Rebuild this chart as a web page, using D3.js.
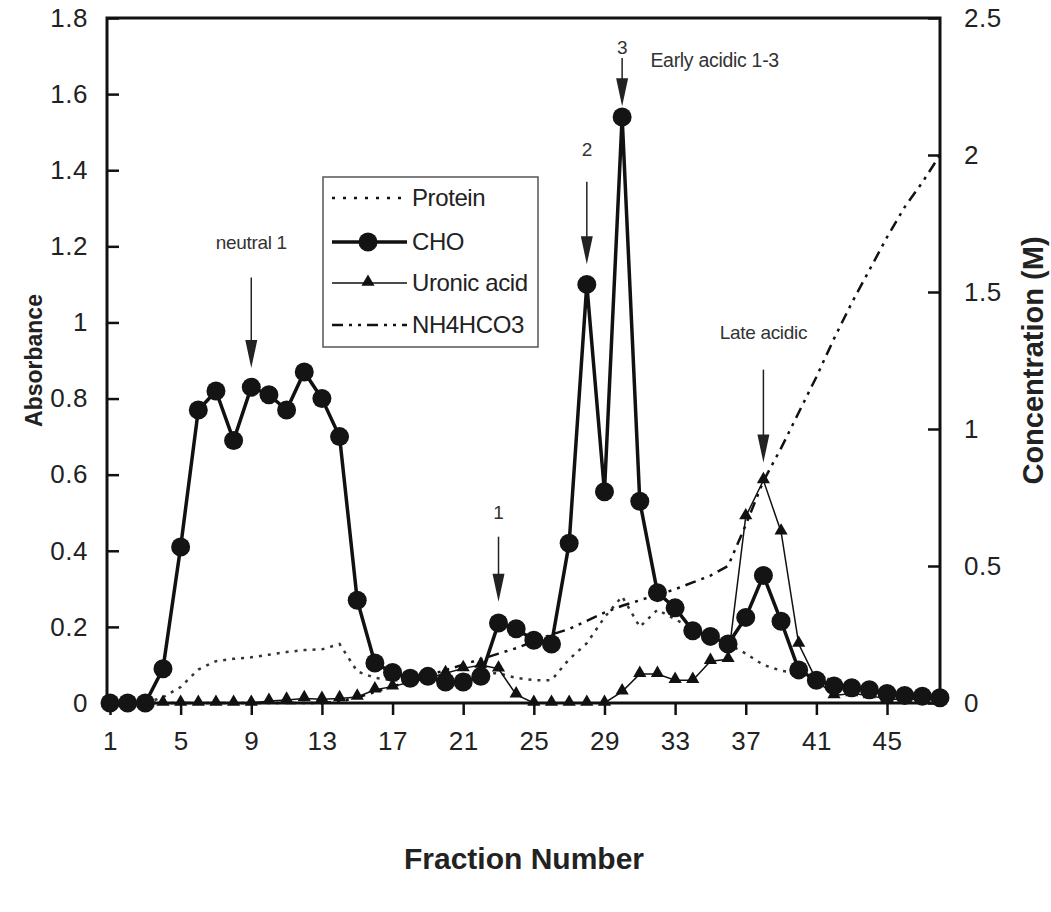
<!DOCTYPE html>
<html>
<head>
<meta charset="utf-8">
<script src="https://cdn.jsdelivr.net/npm/d3@7"></script>
<style>
  body { margin: 0; background: #fff; }
  svg { display: block; font-family: "Liberation Sans", Arial, Helvetica, sans-serif; }
</style>
</head>
<body>
<svg id="chart"></svg>
<script>
// fraction numbers
const fractions = [1,2,3,4,5,6,7,8,9,10,11,12,13,14,15,16,17,18,19,20,21,22,23,24,
                   25,26,27,28,29,30,31,32,33,34,35,36,37,38,39,40,41,42,43,44,45,46,47,48];

// absorbance series (left axis)
const protein = [0,0,0,0.015,0.042,0.088,0.11,0.116,0.12,0.127,0.134,0.139,0.141,0.155,0.083,0.066,
                 0.06,0.06,0.063,0.068,0.072,0.078,0.078,0.066,0.06,0.06,0.115,0.157,0.225,0.28,0.2,0.245,
                 0.22,0.195,0.175,0.155,0.13,0.1,0.085,0.078,0.07,0.06,0.05,0.045,0.035,0.028,0.02,0.015];
const cho = [0,0,0,0.09,0.41,0.77,0.82,0.69,0.83,0.81,0.77,0.87,0.8,0.7,0.27,0.105,
             0.08,0.065,0.07,0.055,0.055,0.07,0.21,0.195,0.165,0.155,0.42,1.1,0.555,1.54,0.53,0.29,
             0.25,0.19,0.175,0.155,0.225,0.335,0.215,0.087,0.06,0.045,0.04,0.035,0.025,0.02,0.018,0.014];
const uronic = [0,0,0,0,0,0,0,0,0,0.005,0.008,0.012,0.01,0.012,0.016,0.035,
                0.043,0.055,0.065,0.078,0.091,0.1,0.09,0.022,0,0,0,0,0,0.03,0.076,0.076,
                0.06,0.06,0.11,0.115,0.49,0.585,0.45,0.155,0.06,0.02,0.025,0.02,0.01,0.01,0.01,0.01];

// NH4HCO3 concentration (right axis, M)
const nh4hco3 = [0,0,0,0,0,0,0,0,0,0,0,0,0,0.005,0.02,0.04,
                 0.06,0.08,0.1,0.12,0.14,0.16,0.18,0.2,0.225,0.25,0.27,0.3,0.33,0.355,0.375,0.395,
                 0.415,0.44,0.465,0.5,0.65,0.81,0.93,1.06,1.19,1.33,1.46,1.58,1.7,1.81,1.9,2.0];

const xTicks = [1,5,9,13,17,21,25,29,33,37,41,45];
const leftTicks = [0,0.2,0.4,0.6,0.8,1,1.2,1.4,1.6,1.8];
const rightTicks = [0,0.5,1,1.5,2,2.5];

// peak annotations: fraction, label, label level, arrow top, arrow tip (absorbance units)
const peaks = [
  { f: 9,  text: "neutral 1",   labelAt: 1.21,  from: 1.118, to: 0.88 },
  { f: 23, text: "1",           labelAt: 0.50,  from: 0.437, to: 0.266 },
  { f: 28, text: "2",           labelAt: 1.455, from: 1.37,  to: 1.153 },
  { f: 30, text: "3",           labelAt: 1.724, from: 1.695, to: 1.568 },
  { f: 38, text: "Late acidic", labelAt: 0.974, from: 0.876, to: 0.632 }
];

const width = 1051, height = 912;
const margin = { left: 107, right: 111, top: 18, bottom: 209 };

const svg = d3.select("#chart").attr("width", width).attr("height", height);

const x = d3.scaleLinear().domain([0.83, 48]).range([margin.left, width - margin.right]);
const yL = d3.scaleLinear().domain([0, 1.8]).range([height - margin.bottom, margin.top]);
const yR = d3.scaleLinear().domain([0, 2.5]).range([height - margin.bottom, margin.top]);

const x0 = margin.left, x1 = width - margin.right;
const y0 = height - margin.bottom, y1 = margin.top;

// axes
const xAxis = svg.append("g")
    .attr("transform", `translate(0,${y0})`)
    .call(d3.axisBottom(x).tickValues(xTicks).tickSize(12).tickSizeOuter(0).tickPadding(17));
const leftAxis = svg.append("g")
    .attr("transform", `translate(${x0},0)`)
    .call(d3.axisLeft(yL).tickValues(leftTicks).tickSize(-12).tickSizeOuter(0).tickPadding(19)
          .tickFormat(d => d3.format("")(+d.toFixed(1))));
const rightAxis = svg.append("g")
    .attr("transform", `translate(${x1},0)`)
    .call(d3.axisRight(yR).tickValues(rightTicks).tickSize(-12).tickSizeOuter(0).tickPadding(24)
          .tickFormat(d => d3.format("")(d)));

[xAxis, leftAxis, rightAxis].forEach(g => {
  g.select(".domain").remove();
  g.selectAll("line").attr("stroke", "#111").attr("stroke-width", 2.5);
  g.selectAll("text").attr("fill", "#222").style("font-size", "26px")
    .style("letter-spacing", "0.5px")
    .style("font-family", "'Liberation Sans', Arial, sans-serif");
});

// plot frame
svg.append("rect")
    .attr("x", x0).attr("y", y1)
    .attr("width", x1 - x0).attr("height", y0 - y1)
    .attr("fill", "none").attr("stroke", "#111").attr("stroke-width", 3);

// axis titles
svg.append("text")
    .attr("transform", `translate(42,${(y0 + y1) / 2}) rotate(-90)`)
    .attr("text-anchor", "middle")
    .style("font-size", "23px").style("font-weight", "bold").attr("fill", "#222")
    .text("Absorbance");
svg.append("text")
    .attr("transform", `translate(1043,${(y0 + y1) / 2}) rotate(-90)`)
    .attr("text-anchor", "middle")
    .style("font-size", "29px").style("font-weight", "bold").attr("fill", "#222")
    .text("Concentration (M)");
svg.append("text")
    .attr("x", 524).attr("y", 869)
    .attr("text-anchor", "middle")
    .style("font-size", "30px").style("font-weight", "bold").attr("fill", "#222")
    .text("Fraction Number");

// series
const lineL = vals => d3.line().x((d, i) => x(fractions[i])).y(d => yL(d))(vals);
const lineR = vals => d3.line().x((d, i) => x(fractions[i])).y(d => yR(d))(vals);

svg.append("path").attr("d", lineL(protein))
    .attr("fill", "none").attr("stroke", "#333").attr("stroke-width", 2.5)
    .attr("stroke-dasharray", "3,6");

svg.append("path").attr("d", lineR(nh4hco3))
    .attr("fill", "none").attr("stroke", "#111").attr("stroke-width", 2.5)
    .attr("stroke-dasharray", "11,6,3,6,3,6");

svg.append("path").attr("d", lineL(uronic))
    .attr("fill", "none").attr("stroke", "#111").attr("stroke-width", 1.5);
const tri = d3.symbol().type(d3.symbolTriangle).size(75);
svg.append("g").selectAll("path").data(uronic).join("path")
    .attr("transform", (d, i) => `translate(${x(fractions[i])},${yL(d) - 1})`)
    .attr("d", tri).attr("fill", "#111");

svg.append("path").attr("d", lineL(cho))
    .attr("fill", "none").attr("stroke", "#111").attr("stroke-width", 3.5);
svg.append("g").selectAll("circle").data(cho).join("circle")
    .attr("cx", (d, i) => x(fractions[i])).attr("cy", d => yL(d))
    .attr("r", 9.5).attr("fill", "#141414");

// arrows
const ann = svg.append("g");
peaks.forEach(p => {
  const px = x(p.f);
  ann.append("line")
      .attr("x1", px).attr("x2", px)
      .attr("y1", yL(p.from)).attr("y2", yL(p.to) - 20)
      .attr("stroke", "#222").attr("stroke-width", 1.5);
  ann.append("path")
      .attr("d", `M${px - 6},${yL(p.to) - 28}L${px + 6},${yL(p.to) - 28}L${px},${yL(p.to)}Z`)
      .attr("fill", "#222");
  ann.append("text")
      .attr("x", px).attr("y", yL(p.labelAt)).attr("dy", "0.35em")
      .attr("text-anchor", "middle")
      .style("font-size", "19px").style("letter-spacing", "-0.3px").attr("fill", "#333")
      .text(p.text);
});
ann.append("text")
    .attr("x", x(31.6)).attr("y", yL(1.69)).attr("dy", "0.35em")
    .style("font-size", "19.5px").style("letter-spacing", "-0.3px").attr("fill", "#333")
    .text("Early acidic 1-3");

// legend
const legend = svg.append("g").attr("transform", "translate(323,177)");
legend.append("rect").attr("width", 215).attr("height", 170)
    .attr("fill", "#fff").attr("stroke", "#555").attr("stroke-width", 1.5);
const items = [
  { name: "Protein",     dash: "3,8",               w: 2.5, mark: null },
  { name: "CHO",         dash: null,                w: 3.5, mark: "circle" },
  { name: "Uronic acid", dash: null,                w: 1.5, mark: "triangle" },
  { name: "NH4HCO3",     dash: "11,6,3,6,3,6",      w: 2.5, mark: null }
];
const rowY = [21, 65, 106, 148];
items.forEach((it, i) => {
  const g = legend.append("g").attr("transform", `translate(0,${rowY[i]})`);
  g.append("line").attr("x1", 9).attr("x2", 84).attr("y1", 0).attr("y2", 0)
      .attr("stroke", "#111").attr("stroke-width", it.w)
      .attr("stroke-dasharray", it.dash);
  if (it.mark === "circle") g.append("circle").attr("cx", 45).attr("r", 9.5).attr("fill", "#141414");
  if (it.mark === "triangle") g.append("path").attr("transform", "translate(45,-1)").attr("d", tri).attr("fill", "#111");
  g.append("text").attr("x", 89).attr("dy", "0.35em")
      .style("font-size", "24px").style("letter-spacing", "-0.4px").attr("fill", "#222")
      .text(it.name);
});
</script>
</body>
</html>
